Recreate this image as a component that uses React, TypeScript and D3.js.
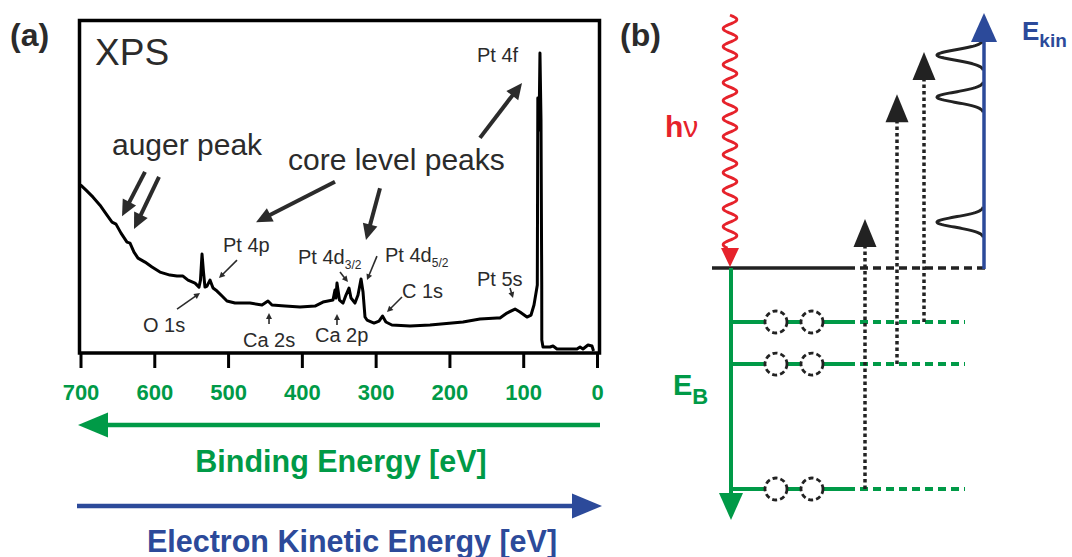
import { useEffect, useRef } from "react";
import * as d3 from "d3";

// XPS survey spectrum: [binding energy (eV), intensity (arb. units)]
const spectrum: [number, number][] = [
  [700, 50.5], [692.5, 48.9], [683, 46.8], [673.6, 44.4], [664.1, 41.4], [657.3, 39.3],
  [651.9, 38.7], [645.1, 36.0], [637, 33.3], [632.9, 33.0], [627.5, 30.3], [622.1, 28.5],
  [612.6, 27.3], [603.1, 25.8], [592.3, 24.3], [578.8, 23.4], [569.3, 23.1], [561.1, 23.1],
  [554.3, 21.9], [544.8, 21.0], [539.4, 19.8], [537.4, 21.9], [535.3, 29.7], [533.3, 24.3],
  [531.3, 19.8], [528.6, 20.1], [524.5, 21.9], [520.4, 19.5], [515, 18.6], [508.2, 17.1],
  [501.5, 15.6], [490.6, 15.0], [470.3, 15.0], [454, 14.4], [445.9, 15.6], [440.5, 14.4],
  [422.8, 14.1], [402.5, 13.8], [382.2, 14.1], [371.4, 15.3], [357.8, 15.9], [355.1, 18.9],
  [353.8, 16.5], [352.4, 21.0], [349, 15.9], [344.2, 15.0], [340.2, 17.4], [336.1, 19.5],
  [333.4, 16.5], [328, 15.0], [323.9, 17.4], [319.8, 22.2], [317.1, 18.3], [314.4, 10.8],
  [311.7, 9.9], [302.2, 9.0], [295.4, 9.6], [290.7, 11.1], [286.1, 9.3], [278, 8.4],
  [253.4, 8.1], [226.3, 8.4], [181.6, 9.3], [158.6, 10.2], [135.5, 10.5], [131.5, 10.5],
  [122, 12.0], [111.1, 13.2], [104.4, 12.3], [94.9, 10.8], [89.4, 11.4], [85.4, 14.4],
  [82, 18.9], [80.9, 20.4], [80.2, 76.6], [78.6, 67.0], [77.3, 90.1], [75.9, 70.0],
  [74.9, 20.4], [74.8, 3.9], [73.2, 1.8], [63.7, 1.8], [59.6, 2.1], [54.2, 1.2],
  [27.1, 1.2], [23, 1.8], [19, 1.2], [12.2, 2.4], [6.8, 2.1], [4.7, 0.6],
];

const tickValues = [700, 600, 500, 400, 300, 200, 100, 0];

// peak labels: text, subscript, anchor BE, anchor intensity
const peakLabels: [string, string, number, number][] = [
  ["Pt 4f", "", 162.6, 87.4],
  ["Pt 4p", "", 506.9, 30.3],
  ["O 1s", "", 615.3, 6.3],
  ["Ca 2s", "", 479.8, 1.8],
  ["Ca 2p", "", 382.2, 3.3],
  ["Pt 4d", "3/2", 405.2, 26.6],
  ["Pt 4d", "5/2", 287.3, 27.3],
  ["C 1s", "", 264.3, 16.5],
  ["Pt 5s", "", 162.6, 20.1],
];

// small pointers from label to peak: BE1, I1, BE2, I2
const pointers: [number, number, number, number][] = [
  [487.9, 27.9, 512.3, 22.5],
  [569.2, 13.2, 538.0, 18.0],
  [444.5, 8.7, 444.5, 12.0],
  [352.4, 8.4, 352.4, 11.7],
  [348.3, 24.3, 337.5, 21.3],
  [298.2, 29.1, 311.7, 21.9],
  [264.3, 16.8, 284.6, 12.3],
  [117.9, 19.5, 113.8, 16.5],
];

// big annotation arrows: BE1, I1, BE2, I2
const bigArrows: [number, number, number, number][] = [
  [612.6, 54.4, 643.7, 41.1],
  [593.6, 52.9, 627.5, 37.2],
  [355.1, 51.4, 462.1, 39.3],
  [294.1, 49.5, 313.1, 33.9],
  [158.6, 64.6, 101.6, 81.1],
];

// energy diagram (b), arbitrary energy units relative to the Fermi level
const coreLevels = [1.27, 2.26, 5.2];
const photonEnergy = 6.28;

const FONT = "'Liberation Sans', Arial, Helvetica, sans-serif";
const DARK = "#2b2b2b";
const GREEN = "#009a47";
const BLUE = "#2c4a9a";
const RED = "#e6222b";

const x = d3.scaleLinear().domain([700, 0]).range([80.5, 597]);
const y = d3.scaleLinear().domain([0, 100]).range([353, 20]);
const e = d3.scaleLinear().domain([0, 1]).range([268, 225.5]);

const Arrow = ({ x1, y1, x2, y2, color, width, head, half, dash }: any) => {
  const len = Math.hypot(x2 - x1, y2 - y1);
  const ux = (x2 - x1) / len;
  const uy = (y2 - y1) / len;
  const bx = x2 - ux * head;
  const by = y2 - uy * head;
  return (
    <g>
      <line
        x1={x1}
        y1={y1}
        x2={bx + ux}
        y2={by + uy}
        stroke={color}
        strokeWidth={width}
        strokeDasharray={dash}
      />
      <polygon
        points={`${x2},${y2} ${bx - uy * half},${by + ux * half} ${bx + uy * half},${by - ux * half}`}
        fill={color}
      />
    </g>
  );
};

const App = () => {
  const axisRef = useRef<SVGGElement>(null);

  useEffect(() => {
    const g = d3.select(axisRef.current!);
    g.call(
      d3
        .axisBottom(x)
        .tickValues(tickValues)
        .tickFormat(d3.format("d"))
        .tickSize(15)
        .tickSizeOuter(0)
        .tickPadding(16)
    );
    g.select(".domain").remove();
    g.selectAll(".tick line").attr("stroke", "#000").attr("stroke-width", 3);
    g.selectAll(".tick text")
      .attr("fill", GREEN)
      .attr("font-size", 22)
      .attr("font-weight", "bold")
      .attr("font-family", FONT);
  }, []);

  const line = d3
    .line<[number, number]>()
    .x((d) => x(d[0]))
    .y((d) => y(d[1]));

  // wavy photon line
  const waveTop = e(5.95);
  const waveBottom = 248;
  const wavePts: [number, number][] = d3
    .range(waveTop, waveBottom + 0.5, 1)
    .map((yy) => [730 + 7 * Math.sin((2 * Math.PI * (yy - waveTop)) / 18), yy]);
  const wave = d3.line().curve(d3.curveBasis)(wavePts);

  const peakPath = (yc: number) => {
    const pts: [number, number][] = d3
      .range(-15, 15.01, 0.5)
      .map((t) => [984 - 47 * Math.exp(-(t * t) / (2 * 5.2 * 5.2)), yc + t]);
    return d3.line()(pts);
  };

  const arrowX = [924, 897, 865];

  return (
    <svg
      width={1072}
      height={557}
      style={{ position: "absolute", left: 0, top: 0, background: "#fff" }}
      fontFamily={FONT}
    >
      {/* panel (a) */}
      <text x={10} y={46} fontSize={32} fontWeight="bold" fill={DARK}>
        (a)
      </text>
      <rect x={79.5} y={20.5} width={520} height={332.5} fill="none" stroke="#000" strokeWidth={3.5} />
      <g ref={axisRef} transform="translate(0,353)" />
      <path
        d={line(spectrum) ?? ""}
        fill="none"
        stroke="#000"
        strokeWidth={3}
        strokeLinejoin="round"
      />
      <text x={x(680.3)} y={y(86.5)} fontSize={37} fill={DARK}>
        XPS
      </text>
      <text x={x(657.3)} y={y(59.5)} fontSize={30} fill={DARK}>
        auger peak
      </text>
      <text x={x(418.8)} y={y(55)} fontSize={30} fill={DARK}>
        core level peaks
      </text>
      {bigArrows.map(([b1, i1, b2, i2], k) => (
        <Arrow
          key={k}
          x1={x(b1)}
          y1={y(i1)}
          x2={x(b2)}
          y2={y(i2)}
          color={DARK}
          width={4}
          head={16}
          half={7.5}
        />
      ))}
      {peakLabels.map(([t, sub, b, i], k) => (
        <text key={k} x={x(b)} y={y(i)} fontSize={20} fill={DARK}>
          {t}
          {sub && (
            <tspan fontSize={12} dy={5}>
              {sub}
            </tspan>
          )}
        </text>
      ))}
      {pointers.map(([b1, i1, b2, i2], k) => (
        <Arrow
          key={k}
          x1={x(b1)}
          y1={y(i1)}
          x2={x(b2)}
          y2={y(i2)}
          color={DARK}
          width={1.6}
          head={6}
          half={3}
        />
      ))}

      {/* energy direction arrows */}
      <Arrow x1={600} y1={425} x2={78} y2={425} color={GREEN} width={4.5} head={30} half={12.5} />
      <text x={341} y={472} fontSize={30.5} fontWeight="bold" fill={GREEN} textAnchor="middle">
        Binding Energy [eV]
      </text>
      <Arrow x1={77} y1={506} x2={602} y2={506} color={BLUE} width={4.5} head={30} half={12.5} />
      <text x={352} y={552} fontSize={30.5} fontWeight="bold" fill={BLUE} textAnchor="middle">
        Electron Kinetic Energy [eV]
      </text>

      {/* panel (b) */}
      <text x={620} y={46} fontSize={32} fontWeight="bold" fill={DARK}>
        (b)
      </text>
      {coreLevels.map((eb, k) => (
        <g key={k}>
          <line x1={731} x2={847} y1={e(-eb)} y2={e(-eb)} stroke={GREEN} strokeWidth={4} />
          <line
            x1={847}
            x2={965}
            y1={e(-eb)}
            y2={e(-eb)}
            stroke={GREEN}
            strokeWidth={4}
            strokeDasharray="8 5"
          />
        </g>
      ))}
      <line x1={712} x2={847} y1={e(0)} y2={e(0)} stroke="#222" strokeWidth={3.5} />
      <line
        x1={847}
        x2={985}
        y1={e(0)}
        y2={e(0)}
        stroke="#222"
        strokeWidth={3.5}
        strokeDasharray="8 5"
      />
      {coreLevels.map((eb, k) =>
        [776, 812].map((cx) => (
          <circle
            key={`${k}-${cx}`}
            cx={cx}
            cy={e(-eb)}
            r={11}
            fill="#fff"
            stroke="#222"
            strokeWidth={2.8}
            strokeDasharray="5 3"
          />
        ))
      )}
      {coreLevels.map((eb, k) => (
        <Arrow
          key={k}
          x1={arrowX[k]}
          y1={e(-eb)}
          x2={arrowX[k]}
          y2={e(photonEnergy - eb) - 3}
          color="#222"
          width={3.5}
          head={28}
          half={11.5}
          dash="3.5 3"
        />
      ))}
      <Arrow x1={731} y1={e(0)} x2={731} y2={e(-5.93)} color={GREEN} width={4} head={27} half={12} />
      <path d={wave ?? ""} fill="none" stroke={RED} strokeWidth={2.8} />
      <polygon points={`730,${e(0) - 1} 721,${waveBottom} 739,${waveBottom}`} fill={RED} />
      {coreLevels.map((eb, k) => (
        <path
          key={k}
          d={peakPath(e(photonEnergy - eb)) ?? ""}
          fill="none"
          stroke="#222"
          strokeWidth={3}
        />
      ))}
      <Arrow x1={984} y1={e(0) + 1} x2={984} y2={e(6.0)} color={BLUE} width={3.5} head={29} half={13} />
      <text x={665} y={137} fontSize={30} fill={RED}>
        <tspan fontWeight="bold">h</tspan>
        <tspan>ν</tspan>
      </text>
      <text x={1022} y={40} fontSize={26} fontWeight="bold" fill={BLUE}>
        E
        <tspan fontSize={19} dy={7}>
          kin
        </tspan>
      </text>
      <text x={673} y={395} fontSize={29} fontWeight="bold" fill={GREEN}>
        E
        <tspan fontSize={22} dy={9}>
          B
        </tspan>
      </text>
    </svg>
  );
};

export default App;
